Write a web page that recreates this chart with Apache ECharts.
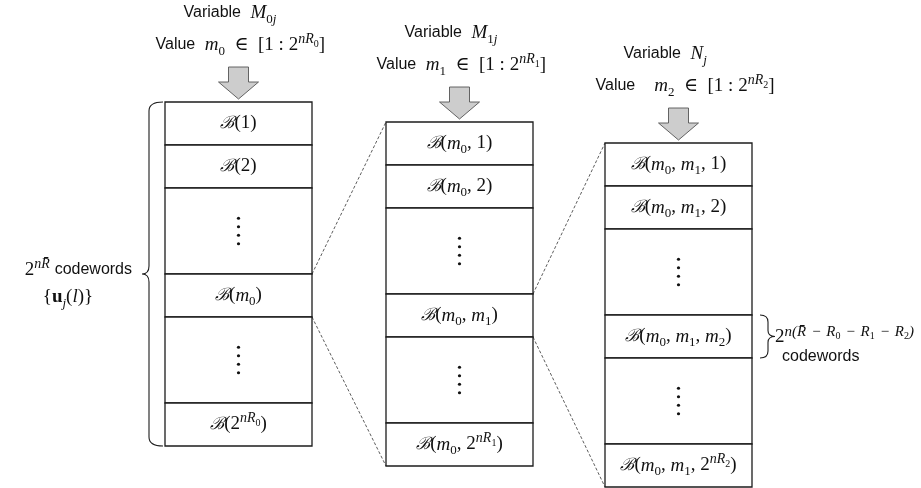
<!DOCTYPE html>
<html>
<head>
<meta charset="utf-8">
<title>Codebook bins</title>
<script src="https://cdn.jsdelivr.net/npm/echarts@6/dist/echarts.min.js"></script>
<style>
    html, body { margin: 0; padding: 0; background: #fff; }
    #chart { width: 921px; height: 488px; }
</style>
</head>
<body>
<div id="chart"></div>
<script>
// bin contents, top to bottom (null = vertical dots)
const binLabels0 = ['{cal|ℬ}(1)', '{cal|ℬ}(2)', null, '{cal|ℬ}({mi|m}{sub|0})', null, '{cal|ℬ}(2{supi|nR}{ssub|0})'];
const binLabels1 = ['{cal|ℬ}({mi|m}{sub|0}, 1)', '{cal|ℬ}({mi|m}{sub|0}, 2)', null, '{cal|ℬ}({mi|m}{sub|0}, {mi|m}{sub|1})', null, '{cal|ℬ}({mi|m}{sub|0}, 2{supi|nR}{ssub|1})'];
const binLabels2 = ['{cal|ℬ}({mi|m}{sub|0}, {mi|m}{sub|1}, 1)', '{cal|ℬ}({mi|m}{sub|0}, {mi|m}{sub|1}, 2)', null, '{cal|ℬ}({mi|m}{sub|0}, {mi|m}{sub|1}, {mi|m}{sub|2})', null, '{cal|ℬ}({mi|m}{sub|0}, {mi|m}{sub|1}, 2{supi|nR}{ssub|2})'];
const binLabels = [binLabels0, binLabels1, binLabels2];
const rowSpans = [1, 1, 2, 1, 2, 1];   // relative height of each row
const expandedRow = 3;                 // row that is zoomed into the next bin

const variableLabels = ['{sans|Variable}  {mi|M}{sub|0}{subi|j}', '{sans|Variable}  {mi|M}{sub|1}{subi|j}', '{sans|Variable}  {mi|N}{subi|j}'];
const valueLabels = [
    '{sans|Value}  {mi|m}{sub|0}  ∈  [1 : 2{supi|nR}{ssub|0}]',
    '{sans|Value}  {mi|m}{sub|1}  ∈  [1 : 2{supi|nR}{ssub|1}]',
    '{sans|Value}    {mi|m}{sub|2}  ∈  [1 : 2{supi|nR}{ssub|2}]'
];
const braceLabels = [
    ['2{supi|nR̄} {sans|codewords}', '{{bu|u}{subi|j}({mi|l})}'],
    ['2{supw|n(}{supw|R̄}{supw|\u2004−\u2004}{supw|R}{ssub|0}{supw|\u2004−\u2004}{supw|R}{ssub|1}{supw|\u2004−\u2004}{supw|R}{ssub|2}{supw|)}', '{sans|codewords}']
];

// layout
const colLeft = [165, 386, 605];
const colTop = [102, 122, 143];
const colWidth = 147;
const rowUnit = 43;
const ink = '#1c1c1c';

const serif = '"Liberation Serif", "DejaVu Serif", serif';
const sans = '"Liberation Sans", Arial, sans-serif';
const mathRich = {
    sans: { fontFamily: sans, fontSize: 16, lineHeight: 26 },
    mi: { fontFamily: serif, fontStyle: 'italic', fontSize: 19, lineHeight: 26 },
    cal: { fontFamily: '"DejaVu Serif", serif', fontStyle: 'italic', fontSize: 17, lineHeight: 26 },
    bu: { fontFamily: serif, fontWeight: 'bold', fontSize: 19, lineHeight: 26 },
    sub: { fontFamily: serif, fontSize: 13, lineHeight: 15, verticalAlign: 'bottom' },
    subi: { fontFamily: serif, fontStyle: 'italic', fontSize: 13, lineHeight: 15, verticalAlign: 'bottom' },
    sup: { fontFamily: serif, fontSize: 14, lineHeight: 16, verticalAlign: 'top' },
    supi: { fontFamily: serif, fontStyle: 'italic', fontSize: 14, lineHeight: 16, verticalAlign: 'top' },
    supw: { fontFamily: serif, fontStyle: 'italic', fontSize: 15, lineHeight: 16, verticalAlign: 'top' },
    ssub: { fontFamily: serif, fontSize: 10, lineHeight: 12, verticalAlign: 'top', padding: [7, 0, 0, 0] }
};

function mathText(x, y, text, align) {
    return {
        type: 'text',
        x: x,
        y: y,
        style: {
            text: text,
            rich: mathRich,
            fontFamily: serif,
            fontSize: 19,
            lineHeight: 26,
            fill: '#111',
            align: align || 'center',
            verticalAlign: 'middle'
        }
    };
}

function rowStart(col, row) {
    var y = colTop[col];
    for (var i = 0; i < row; i++) {
        y += rowSpans[i] * rowUnit;
    }
    return y;
}

var cellData = [];
binLabels.forEach(function (labels, c) {
    labels.forEach(function (l, r) {
        cellData.push([c, r]);
    });
});

const chart = echarts.init(document.getElementById('chart'));

chart.setOption({
    animation: false,
    grid: { left: 0, right: 0, top: 0, bottom: 0 },
    xAxis: { type: 'value', min: 0, max: 921, show: false },
    yAxis: { type: 'value', min: 0, max: 488, inverse: true, show: false },
    series: [
        {
            // dashed zoom lines between bins
            type: 'custom',
            silent: true,
            data: [[0], [1]],
            renderItem: function (params, api) {
                var c = api.value(0);
                var xr = colLeft[c] + colWidth;
                var xn = colLeft[c + 1];
                var a = api.coord([xr, rowStart(c, expandedRow)]);
                var b = api.coord([xr, rowStart(c, expandedRow + 1)]);
                var t = api.coord([xn, colTop[c + 1]]);
                var d = api.coord([xn, rowStart(c + 1, rowSpans.length)]);
                var dash = { stroke: '#333', lineWidth: 0.8, lineDash: [3, 2] };
                return {
                    type: 'group',
                    children: [
                        { type: 'line', shape: { x1: a[0], y1: a[1], x2: t[0], y2: t[1] }, style: dash },
                        { type: 'line', shape: { x1: b[0], y1: b[1], x2: d[0], y2: d[1] }, style: dash }
                    ]
                };
            }
        },
        {
            // bin cells
            type: 'custom',
            silent: true,
            data: cellData,
            renderItem: function (params, api) {
                var c = api.value(0);
                var r = api.value(1);
                var p1 = api.coord([colLeft[c], rowStart(c, r)]);
                var p2 = api.coord([colLeft[c] + colWidth, rowStart(c, r + 1)]);
                var cx = (p1[0] + p2[0]) / 2;
                var cy = (p1[1] + p2[1]) / 2;
                var children = [{
                    type: 'rect',
                    shape: { x: p1[0], y: p1[1], width: p2[0] - p1[0], height: p2[1] - p1[1] },
                    style: { fill: '#fff', stroke: ink, lineWidth: 1.3 }
                }];
                var label = binLabels[c][r];
                if (label === null) {
                    for (var k = 0; k < 4; k++) {
                        children.push({
                            type: 'circle',
                            shape: { cx: cx, cy: cy - 12.75 + k * 8.5, r: 1.6 },
                            style: { fill: '#111' }
                        });
                    }
                } else {
                    children.push(mathText(cx, cy, label));
                }
                return { type: 'group', children: children };
            }
        },
        {
            // headers and block arrows
            type: 'custom',
            silent: true,
            data: [[0], [1], [2]],
            renderItem: function (params, api) {
                var c = api.value(0);
                var mid = colLeft[c] + colWidth / 2;
                var top = colTop[c];
                var pts = [
                    [mid - 10, top - 35], [mid + 10, top - 35], [mid + 10, top - 20],
                    [mid + 20, top - 20], [mid, top - 3], [mid - 20, top - 20], [mid - 10, top - 20]
                ].map(function (p) { return api.coord(p); });
                var v = api.coord([mid - 55, top - 89]);
                var w = api.coord([mid - 83, top - 57]);
                return {
                    type: 'group',
                    children: [
                        { type: 'polygon', shape: { points: pts }, style: { fill: '#cdcdcd', stroke: '#555', lineWidth: 0.9 } },
                        mathText(v[0], v[1], variableLabels[c], 'left'),
                        mathText(w[0], w[1], valueLabels[c], 'left')
                    ]
                };
            }
        },
        {
            // braces with codeword counts
            type: 'custom',
            silent: true,
            data: [[0], [1]],
            renderItem: function (params, api) {
                var i = api.value(0);
                var path, texts;
                if (i === 0) {
                    var y0 = api.coord([0, colTop[0]])[1];
                    var y1 = api.coord([0, rowStart(0, rowSpans.length)])[1];
                    var ym = api.coord([0, rowStart(0, expandedRow)])[1];
                    var x0 = api.coord([colLeft[0] - 2, 0])[0];
                    var xv = api.coord([colLeft[0] - 16, 0])[0];
                    var xt = api.coord([colLeft[0] - 23, 0])[0];
                    path = 'M' + x0 + ',' + y0 + ' Q' + xv + ',' + y0 + ' ' + xv + ',' + (y0 + 9) +
                        ' L' + xv + ',' + (ym - 8) + ' Q' + xv + ',' + ym + ' ' + xt + ',' + ym +
                        ' Q' + xv + ',' + ym + ' ' + xv + ',' + (ym + 8) +
                        ' L' + xv + ',' + (y1 - 9) + ' Q' + xv + ',' + y1 + ' ' + x0 + ',' + y1;
                    var a = api.coord([132, ym - 4]);
                    var b = api.coord([68, ym + 23]);
                    texts = [mathText(a[0], a[1], braceLabels[0][0], 'right'), mathText(b[0], b[1], braceLabels[0][1], 'center')];
                } else {
                    var xr = colLeft[2] + colWidth;
                    var u0 = api.coord([0, rowStart(2, expandedRow)])[1];
                    var u1 = api.coord([0, rowStart(2, expandedRow + 1)])[1];
                    var um = (u0 + u1) / 2;
                    var q0 = api.coord([xr + 8, 0])[0];
                    var qv = api.coord([xr + 16, 0])[0];
                    var qt = api.coord([xr + 23, 0])[0];
                    path = 'M' + q0 + ',' + u0 + ' Q' + qv + ',' + u0 + ' ' + qv + ',' + (u0 + 7) +
                        ' L' + qv + ',' + (um - 6) + ' Q' + qv + ',' + um + ' ' + qt + ',' + um +
                        ' Q' + qv + ',' + um + ' ' + qv + ',' + (um + 6) +
                        ' L' + qv + ',' + (u1 - 7) + ' Q' + qv + ',' + u1 + ' ' + q0 + ',' + u1;
                    var e = api.coord([xr + 23, um + 1]);
                    var f = api.coord([xr + 30, um + 20]);
                    texts = [mathText(e[0], e[1], braceLabels[1][0], 'left'), mathText(f[0], f[1], braceLabels[1][1], 'left')];
                }
                return {
                    type: 'group',
                    children: [{ type: 'path', shape: { pathData: path }, style: { fill: 'none', stroke: ink, lineWidth: 1.1 } }].concat(texts)
                };
            }
        }
    ]
});
</script>
</body>
</html>
